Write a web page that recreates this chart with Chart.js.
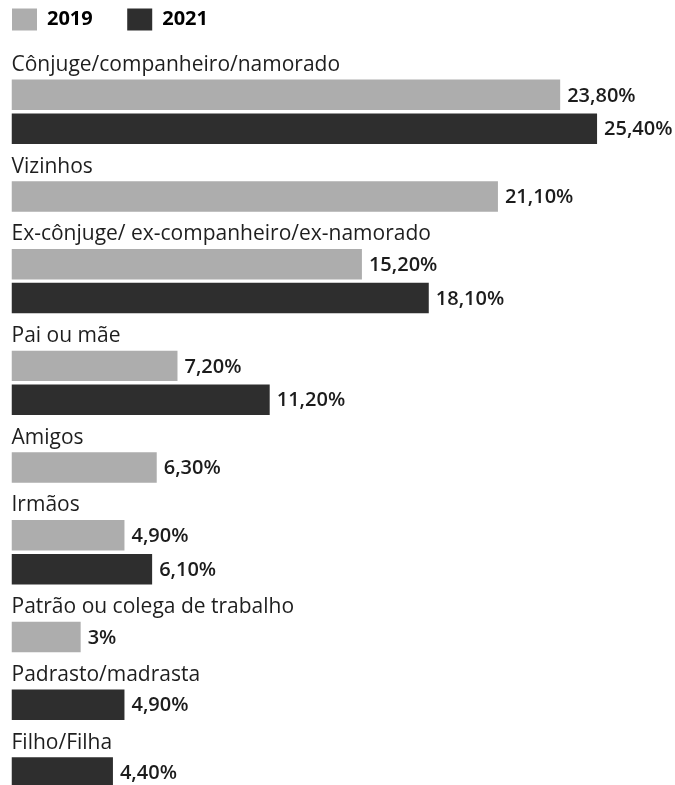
<!DOCTYPE html>
<html>
<head>
<meta charset="utf-8">
<script src="https://cdn.jsdelivr.net/npm/chart.js@4/dist/chart.umd.min.js"></script>
<style>
  html, body { margin: 0; padding: 0; background: #fff; overflow: hidden; }
  #wrap { position: relative; width: 675px; height: 802px; }
</style>
</head>
<body>
<div id="wrap"><canvas id="c"></canvas></div>
<script>
const categories = [
  'Cônjuge/companheiro/namorado',
  'Vizinhos',
  'Ex-cônjuge/ ex-companheiro/ex-namorado',
  'Pai ou mãe',
  'Amigos',
  'Irmãos',
  'Patrão ou colega de trabalho',
  'Padrasto/madrasta',
  'Filho/Filha'
];
const values2019 = [23.8, 21.1, 15.2, 7.2, 6.3, 4.9, 3, null, null];
const values2021 = [25.4, null, 18.1, 11.2, null, 6.1, null, 4.9, 4.4];
const seriesNames = ['2019', '2021'];
const seriesColors = ['#adadad', '#2e2e2e'];

// Build rows: a label row for each category followed by one row per present bar
const rowLabels = [];
const rows2019 = [];
const rows2021 = [];
categories.forEach((cat, i) => {
  rowLabels.push(cat); rows2019.push(null); rows2021.push(null);
  if (values2019[i] !== null) { rowLabels.push(''); rows2019.push(values2019[i]); rows2021.push(null); }
  if (values2021[i] !== null) { rowLabels.push(''); rows2019.push(null); rows2021.push(values2021[i]); }
});

function fmt(v) {
  return Number.isInteger(v) ? v + '%' : v.toFixed(2).replace('.', ',') + '%';
}

const valueLabels = {
  id: 'valueLabels',
  beforeInit(chart) {
    const legend = chart.legend;
    if (legend) {
      const origFit = legend.fit;
      legend.fit = function () { origFit.call(this); this.height += 3.5; };
    }
  },
  afterDatasetsDraw(chart) {
    const ctx = chart.ctx;
    ctx.save();
    ctx.font = '600 20px "Open Sans"';
    ctx.fillStyle = '#1c1c1c';
    ctx.textAlign = 'left';
    ctx.textBaseline = 'middle';
    chart.data.datasets.forEach((ds, di) => {
      const meta = chart.getDatasetMeta(di);
      meta.data.forEach((el, i) => {
        const v = ds.data[i];
        if (v === null || v === undefined) return;
        ctx.fillText(fmt(v), el.x + 7, el.y + 1);
      });
    });
    ctx.restore();
  }
};

new Chart(document.getElementById('c'), {
  type: 'bar',
  data: {
    labels: rowLabels,
    datasets: [
      { label: seriesNames[0], data: rows2019, backgroundColor: seriesColors[0] },
      { label: seriesNames[1], data: rows2021, backgroundColor: seriesColors[1] }
    ]
  },
  options: {
    indexAxis: 'y',
    responsive: true,
    maintainAspectRatio: false,
    animation: false,
    datasets: { bar: { grouped: false, barPercentage: 0.9, categoryPercentage: 1 } },
    layout: { padding: { left: 3.5, right: 18, top: 0, bottom: 0 } },
    scales: {
      x: {
        display: false,
        min: 0,
        max: 28
      },
      y: {
        grid: { display: false },
        border: { display: false },
        ticks: {
          mirror: true,
          padding: 0,
          autoSkip: false,
          labelOffset: 4,
          color: '#1e1e1e',
          font: { family: 'Open Sans', size: 21, weight: 'normal' }
        }
      }
    },
    plugins: {
      tooltip: { enabled: false },
      legend: {
        position: 'top',
        align: 'start',
        labels: {
          boxWidth: 25,
          boxHeight: 22,
          padding: 8.5,
          color: '#1a1a1a',
          font: { family: 'Open Sans', size: 20, weight: 'bold' },
          generateLabels(chart) {
            return chart.data.datasets.map((ds, i) => ({
              text: ds.label + '\u0020\u0020\u0020\u0020\u0020',
              fillStyle: ds.backgroundColor,
              strokeStyle: ds.backgroundColor,
              lineWidth: 0,
              hidden: false,
              datasetIndex: i
            }));
          }
        }
      }
    }
  },
  plugins: [valueLabels]
});
</script>
</body>
</html>
